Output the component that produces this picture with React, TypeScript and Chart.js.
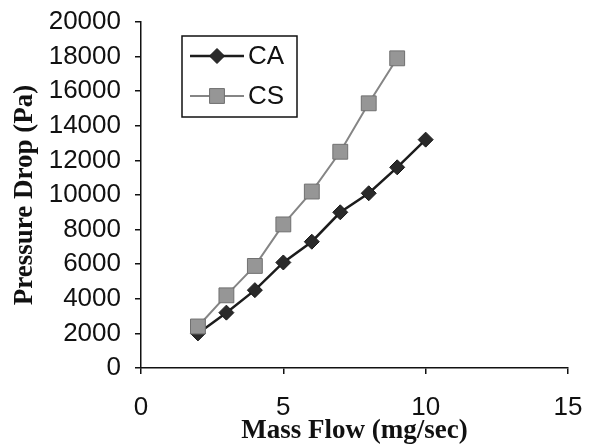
import React, { useEffect, useRef } from "react";
import { Chart, registerables } from "chart.js";

Chart.register(...registerables);

const massFlow = [2, 3, 4, 5, 6, 7, 8, 9, 10];
const caValues = [2000, 3200, 4500, 6100, 7300, 9000, 10100, 11600, 13200];
const csMassFlow = [2, 3, 4, 5, 6, 7, 8, 9];
const csValues = [2400, 4200, 5900, 8300, 10200, 12500, 15300, 17900];
const seriesNames = ["CA", "CS"];
const xTitle = "Mass Flow (mg/sec)";
const yTitle = "Pressure Drop (Pa)";

const SANS = "'Liberation Sans', Arial, sans-serif";
const SERIF = "'Liberation Serif', 'Times New Roman', serif";

const legendPlugin = {
  id: "insideLegend",
  afterDraw(chart: any) {
    const ctx = chart.ctx as CanvasRenderingContext2D;
    const area = chart.chartArea;
    const bx = area.left + 41;
    const by = area.top + 14;
    const bw = 115;
    const bh = 81;
    ctx.save();
    ctx.fillStyle = "#ffffff";
    ctx.fillRect(bx, by, bw, bh);
    ctx.strokeStyle = "#111";
    ctx.lineWidth = 1.5;
    ctx.strokeRect(bx, by, bw, bh);
    const rows = [by + 20, by + 60];
    chart.data.datasets.forEach((ds: any, i: number) => {
      const y = rows[i];
      ctx.strokeStyle = ds.borderColor;
      ctx.lineWidth = ds.borderWidth;
      ctx.beginPath();
      ctx.moveTo(bx + 8, y);
      ctx.lineTo(bx + 62, y);
      ctx.stroke();
      const cx = bx + 35;
      const r = ds.pointRadius;
      ctx.fillStyle = ds.pointBackgroundColor;
      ctx.strokeStyle = ds.pointBorderColor;
      ctx.lineWidth = ds.pointBorderWidth;
      ctx.beginPath();
      if (ds.pointStyle === "rectRot") {
        ctx.moveTo(cx - r, y);
        ctx.lineTo(cx, y - r);
        ctx.lineTo(cx + r, y);
        ctx.lineTo(cx, y + r);
        ctx.closePath();
      } else {
        const s = Math.SQRT1_2 * r;
        ctx.rect(cx - s, y - s, 2 * s, 2 * s);
      }
      ctx.fill();
      ctx.stroke();
      ctx.fillStyle = "#111";
      ctx.font = `26px ${SANS}`;
      ctx.textBaseline = "middle";
      ctx.textAlign = "left";
      ctx.fillText(ds.label, bx + 66, y + 1);
    });
    ctx.restore();
  },
};

export default function App() {
  const ref = useRef<HTMLCanvasElement | null>(null);
  useEffect(() => {
    if (!ref.current) return;
    const chart = new Chart(ref.current, {
      type: "line",
      data: {
        datasets: [
          {
            label: seriesNames[0],
            data: massFlow.map((x, i) => ({ x, y: caValues[i] })),
            borderColor: "#1c1c1c",
            borderWidth: 2.5,
            pointStyle: "rectRot",
            pointRadius: 7.5,
            pointBackgroundColor: "#2a2a2a",
            pointBorderColor: "#1a1a1a",
            pointBorderWidth: 1,
            order: 1,
          },
          {
            label: seriesNames[1],
            data: csMassFlow.map((x, i) => ({ x, y: csValues[i] })),
            borderColor: "#858585",
            borderWidth: 2,
            pointStyle: "rect",
            pointRadius: 10.5,
            pointBackgroundColor: "#969696",
            pointBorderColor: "#707070",
            pointBorderWidth: 1,
            order: 0,
          },
        ],
      },
      options: {
        animation: false,
        responsive: false,
        maintainAspectRatio: false,
        layout: { padding: { top: 22, right: 26, left: 0, bottom: 0 } },
        plugins: { legend: { display: false }, tooltip: { enabled: false } },
        scales: {
          x: {
            type: "linear",
            min: 0,
            max: 15,
            ticks: {
              stepSize: 5,
              color: "#111",
              font: { family: SANS, size: 26 },
              padding: 18,
              autoSkip: false,
              maxRotation: 0,
              callback: (v: any) => String(v),
            },
            grid: { display: true, drawOnChartArea: false, tickLength: 6, color: "#111", lineWidth: 1.5 },
            border: { color: "#111", width: 1.5 },
            title: {
              display: true,
              text: xTitle,
              color: "#111",
              font: { family: SERIF, size: 27, weight: "bold", lineHeight: 1 },
              padding: { top: 0, bottom: 3.5 },
            },
            afterFit: (s: any) => {
              s.height = 80;
              s.paddingRight = 0;
              s.paddingLeft = 0;
            },
          },
          y: {
            type: "linear",
            min: 0,
            max: 20000,
            ticks: {
              stepSize: 2000,
              color: "#111",
              font: { family: SANS, size: 26, lineHeight: 1 },
              padding: 14,
              autoSkip: false,
              callback: (v: any) => String(v),
            },
            grid: { display: true, drawOnChartArea: false, tickLength: 6, color: "#111", lineWidth: 1.5 },
            border: { color: "#111", width: 1.5 },
            title: {
              display: true,
              text: yTitle,
              color: "#111",
              font: { family: SERIF, size: 27, weight: "bold", lineHeight: 1 },
              padding: { top: 12, bottom: 0 },
            },
            afterFit: (s: any) => {
              s.width = 141;
              s.paddingTop = 0;
              s.paddingBottom = 0;
            },
          },
        },
      },
      plugins: [legendPlugin],
    });
    return () => chart.destroy();
  }, []);
  return (
    <div style={{ position: "fixed", left: 0, top: 0, width: 594, height: 448, background: "#fff" }}>
      <canvas ref={ref} width={594} height={448} style={{ width: 594, height: 448 }} />
    </div>
  );
}
